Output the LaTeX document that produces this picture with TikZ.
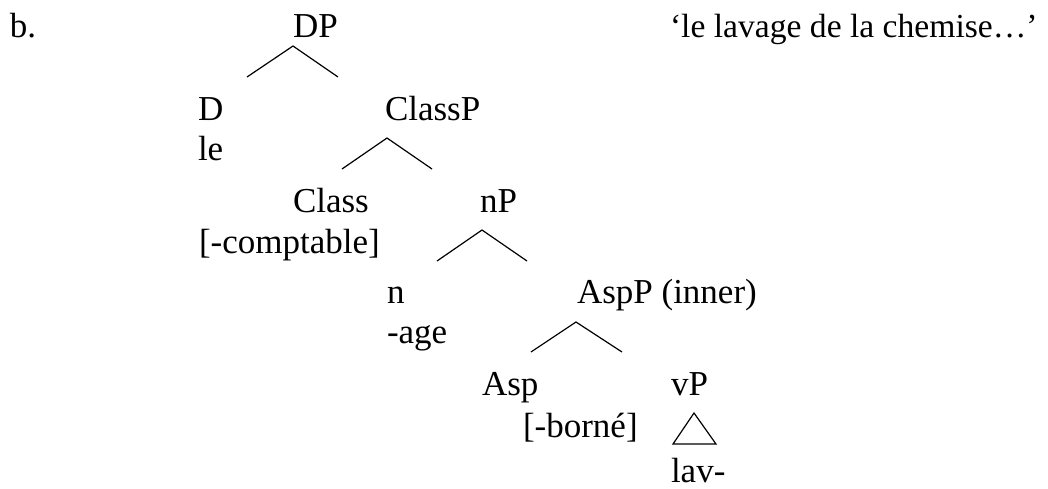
\documentclass[tikz,border=0pt]{standalone}
\usepackage{fontspec}
\setmainfont{Liberation Serif}
\usepackage{tikz}
\usetikzlibrary{positioning}

\begin{document}
\begin{tikzpicture}[x=0.5pt, y=-0.5pt,
                          every node/.style={font=\fontsize{17.5}{21}\selectfont},
                          label/.style={anchor=base west, inner sep=0pt, outer sep=0pt},
                          branch/.style={line width=0.6pt},
                      ]
                      \useasboundingbox (0,0) rectangle (1048,488);
                      %Nodes
                      \node[label]    (ex)      at (10,37)    {b.};
                      \node[label]    (DP)      at (293,37)   {DP};
                      \node[label, font=\fontsize{16.8}{21}\selectfont]
                                      (gloss)   at (670,37)   {‘le lavage de la chemise…’};
                      \node[label]    (D)       at (198,120)  {D};
                      \node[label]    (le)      at (198,160)  {le};
                      \node[label]    (ClassP)  at (385,120)  {ClassP};
                      \node[label]    (Class)   at (293,212)  {Class};
                      \node[label]    (cpt)     at (199,253)  {[-comptable]};
                      \node[label]    (nP)      at (480,212)  {nP};
                      \node[label]    (n)       at (387,303)  {n};
                      \node[label]    (age)     at (387,343)  {-age};
                      \node[label]    (AspP)    at (577,303)  {AspP (inner)};
                      \node[label]    (Asp)     at (482,395)  {Asp};
                      \node[label]    (brn)     at (523,437)  {[-borné]};
                      \node[label]    (vP)      at (671,395)  {vP};
                      \node[label]    (lav)     at (671,482)  {lav-};

                      %Branch points
                      \coordinate (DP_top)     at (293,46);
                      \coordinate (DP_l)       at (247,77);
                      \coordinate (DP_r)       at (338,77);
                      \coordinate (ClassP_top) at (387,138);
                      \coordinate (ClassP_l)   at (342,169);
                      \coordinate (ClassP_r)   at (432,169);
                      \coordinate (nP_top)     at (482,230);
                      \coordinate (nP_l)       at (437,261);
                      \coordinate (nP_r)       at (527,261);
                      \coordinate (AspP_top)   at (576,322);
                      \coordinate (AspP_l)     at (531,352);
                      \coordinate (AspP_r)     at (622,352);
                      \coordinate (vP_top)     at (694,413);
                      \coordinate (vP_l)       at (673,444);
                      \coordinate (vP_r)       at (716,444);

                      %Lines
                      \draw[branch] (DP_l) -- (DP_top) -- (DP_r);
                      \draw[branch] (ClassP_l) -- (ClassP_top) -- (ClassP_r);
                      \draw[branch] (nP_l) -- (nP_top) -- (nP_r);
                      \draw[branch] (AspP_l) -- (AspP_top) -- (AspP_r);
                      \draw[branch] (vP_l) -- (vP_top) -- (vP_r) -- cycle;
                  \end{tikzpicture}
\end{document}
